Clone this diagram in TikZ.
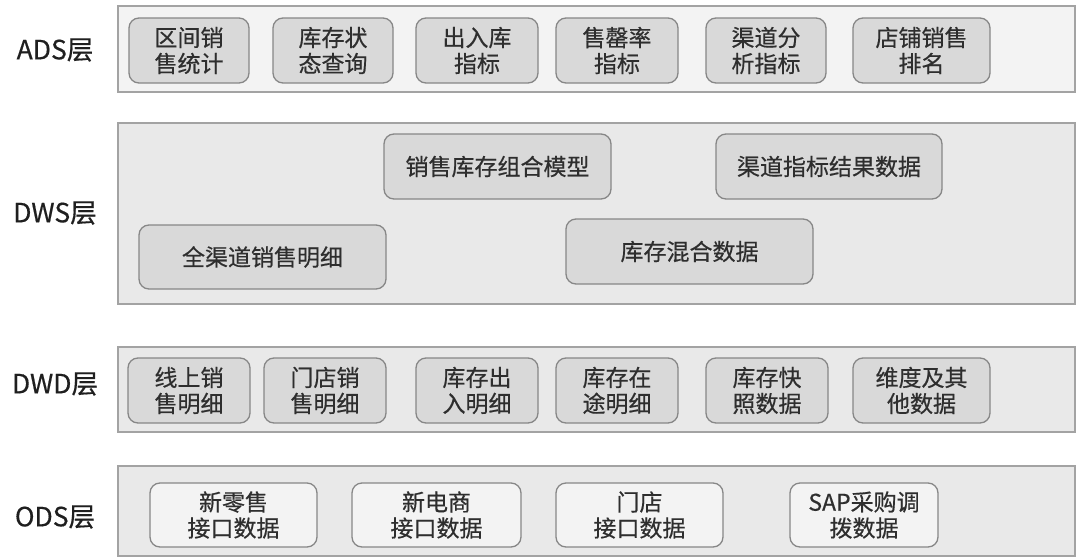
\documentclass[tikz,border=0pt]{standalone}
\usepackage{fontspec}
\setmainfont{Noto Sans CJK SC}[FakeBold=0.5]
\definecolor{layerline}{HTML}{A3A3A3}
\definecolor{layerA}{HTML}{F3F3F3}
\definecolor{layerB}{HTML}{E9E9E9}
\definecolor{boxline}{HTML}{878787}
\definecolor{boxfill}{HTML}{D9D9D9}
\definecolor{boxlight}{HTML}{F3F3F3}
\definecolor{txt}{HTML}{2E2E2E}
\newcommand{\bx}[7][]{%
  \node[#1, minimum width={#5-#3}, minimum height={#6-#4}] (#2) at ({(#3+#5)/2},{(#4+#6)/2}) {#7};}
\begin{document}
\begin{tikzpicture}[x=1pt,y=-1pt,
  layer/.style={draw=layerline, line width=1.6pt, fill=layerB, inner sep=0pt, rectangle},
  box/.style={draw=boxline, line width=1.3pt, fill=boxfill, rounded corners=10pt, inner sep=0pt,
    align=center, text=txt, font=\fontsize{23pt}{26pt}\selectfont},
  odsbox/.style={box, fill=boxlight},
  lbl/.style={text=black!88, font=\fontsize{26.5pt}{30pt}\selectfont, inner sep=0pt}]
\useasboundingbox (0,0) rectangle (1080,560);
% layers
\bx[layer, fill=layerA]{adsL}{118}{6}{1075}{92}{}
\bx[layer]{dwsL}{118}{123}{1075}{304}{}
\bx[layer]{dwdL}{118}{347}{1075}{432}{}
\bx[layer]{odsL}{118}{466}{1075}{556}{}
% labels
\node[lbl] (adsT) at (55,50) {ADS层};
\node[lbl] (dwsT) at (55,213) {DWS层};
\node[lbl] (dwdT) at (55,384) {DWD层};
\node[lbl] (odsT) at (55,517) {ODS层};
% ADS
\bx[box]{a1}{129}{18}{249}{83}{区间销\\售统计}
\bx[box]{a2}{273}{18}{393}{83}{库存状\\态查询}
\bx[box]{a3}{416}{18}{538}{83}{出入库\\指标}
\bx[box]{a4}{556}{18}{678}{83}{售罄率\\指标}
\bx[box]{a5}{706}{18}{826}{83}{渠道分\\析指标}
\bx[box]{a6}{853}{18}{990}{83}{店铺销售\\排名}
% DWS
\bx[box]{s1}{384}{134}{611}{199}{销售库存组合模型}
\bx[box]{s2}{716}{134}{942}{199}{渠道指标结果数据}
\bx[box]{s3}{139}{225}{386}{289}{全渠道销售明细}
\bx[box]{s4}{566}{219}{813}{284}{库存混合数据}
% DWD
\bx[box]{d1}{128}{358}{250}{423}{线上销\\售明细}
\bx[box]{d2}{264}{358}{386}{423}{门店销\\售明细}
\bx[box]{d3}{416}{358}{538}{423}{库存出\\入明细}
\bx[box]{d4}{556}{358}{678}{423}{库存在\\途明细}
\bx[box]{d5}{706}{358}{828}{423}{库存快\\照数据}
\bx[box]{d6}{853}{358}{990}{423}{维度及其\\他数据}
% ODS
\bx[odsbox]{o1}{150}{483}{317}{547}{新零售\\接口数据}
\bx[odsbox]{o2}{352}{483}{521}{547}{新电商\\接口数据}
\bx[odsbox]{o3}{556}{483}{723}{547}{门店\\接口数据}
\bx[odsbox]{o4}{790}{483}{938}{547}{SAP采购调\\拨数据}
\end{tikzpicture}
\end{document}
